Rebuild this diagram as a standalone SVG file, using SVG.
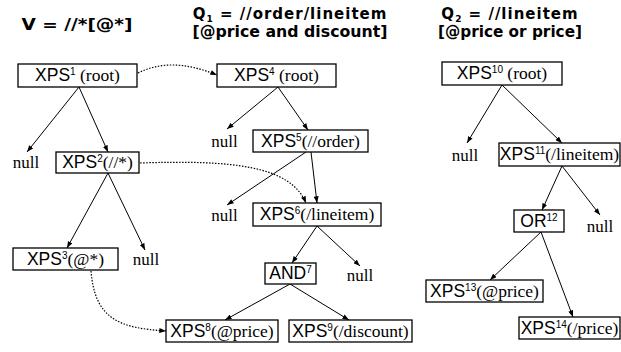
<svg xmlns="http://www.w3.org/2000/svg" width="621" height="352" viewBox="0 0 621 352">
  <defs>
    <marker id="tip" viewBox="0 0 8 6" refX="8" refY="3" markerWidth="7" markerHeight="5" orient="auto" markerUnits="userSpaceOnUse">
      <path d="M0,0 L8,3 L0,6 Z" fill="#000"/>
    </marker>
  </defs>
  <style>
    .box { fill: #fff; stroke: #000; stroke-width: 1.3; }
    .lbl { font-family: "Liberation Sans", Arial, sans-serif; font-size: 17.5px; fill: #000; text-anchor: middle; }
    .ser { font-family: "Liberation Serif", "Times New Roman", serif; }
    .sup { font-size: 10px; }
    .null { font-family: "Liberation Serif", "Times New Roman", serif; font-size: 17px; fill: #000; text-anchor: middle; }
    .title { font-family: "DejaVu Sans", Verdana, sans-serif; font-weight: bold; font-size: 15px; fill: #000; text-anchor: middle; }
    .wide { letter-spacing: 1px; }
    .edge { fill: none; stroke: #000; stroke-width: 1; marker-end: url(#tip); }
    .dot { fill: none; stroke: #000; stroke-width: 1.2; stroke-dasharray: 1.5 1.5; marker-end: url(#tip); }
  </style>

  <!-- query titles -->
  <g id="titles">
    <text class="title" x="77" y="30" font-size="16" textLength="111" lengthAdjust="spacingAndGlyphs">V = //*[@*]</text>
    <text class="title wide" x="290" y="19">Q<tspan font-size="9" dy="3">1</tspan><tspan dy="-3"> = //order/lineitem</tspan></text>
    <text class="title" x="290" y="37" textLength="195" lengthAdjust="spacingAndGlyphs">[@price and discount]</text>
    <text class="title wide" x="510" y="19">Q<tspan font-size="9" dy="3">2</tspan><tspan dy="-3"> = //lineitem</tspan></text>
    <text class="title" x="510" y="37" textLength="144" lengthAdjust="spacingAndGlyphs">[@price or price]</text>
  </g>

  <!-- connectors -->
  <g id="connectors">
    <!-- tree V -->
    <line class="edge" x1="79" y1="87" x2="27" y2="152"/>
    <line class="edge" x1="79" y1="87" x2="108" y2="152"/>
    <line class="edge" x1="108" y1="173" x2="67" y2="248"/>
    <line class="edge" x1="108" y1="173" x2="145" y2="250"/>
    <!-- tree Q1 -->
    <line class="edge" x1="278" y1="87" x2="227" y2="129"/>
    <line class="edge" x1="278" y1="87" x2="308" y2="130"/>
    <line class="edge" x1="306" y1="152" x2="227" y2="205"/>
    <line class="edge" x1="311" y1="152" x2="317" y2="203"/>
    <line class="edge" x1="317" y1="226" x2="292" y2="263"/>
    <line class="edge" x1="317" y1="226" x2="360" y2="266"/>
    <line class="edge" x1="290" y1="284" x2="225" y2="320"/>
    <line class="edge" x1="290" y1="284" x2="349" y2="320"/>
    <!-- tree Q2 -->
    <line class="edge" x1="502" y1="85" x2="467" y2="143"/>
    <line class="edge" x1="502" y1="85" x2="562" y2="143"/>
    <line class="edge" x1="562" y1="166" x2="542" y2="210"/>
    <line class="edge" x1="562" y1="166" x2="600" y2="215"/>
    <line class="edge" x1="541" y1="232" x2="490" y2="280"/>
    <line class="edge" x1="541" y1="232" x2="573" y2="317"/>
    <!-- dotted mappings -->
    <path class="dot" d="M138,73 C160,62 185,62 217,75"/>
    <path class="dot" d="M140,163 C230,160 290,165 306,203"/>
    <path class="dot" d="M91,271 C95,320 120,328 166,331"/>
  </g>

  <!-- tree V nodes -->
  <g id="n1"><rect class="box" x="18" y="64" width="119" height="23"/>
    <text class="lbl" x="77.5" y="81">XPS<tspan class="sup" dy="-6">1</tspan><tspan class="ser" dy="6"> (root)</tspan></text></g>
  <g id="null-a"><text class="null" x="26" y="168">null</text></g>
  <g id="n2"><rect class="box" x="56" y="152" width="83" height="21"/>
    <text class="lbl" x="97.5" y="168">XPS<tspan class="sup" dy="-6">2</tspan><tspan class="ser" dy="6">(//*)</tspan></text></g>
  <g id="n3"><rect class="box" x="13" y="248" width="105" height="22"/>
    <text class="lbl" x="65.5" y="265">XPS<tspan class="sup" dy="-6">3</tspan><tspan class="ser" dy="6">(@*)</tspan></text></g>
  <g id="null-b"><text class="null" x="146" y="265">null</text></g>

  <!-- tree Q1 nodes -->
  <g id="n4"><rect class="box" x="217" y="64" width="119" height="23"/>
    <text class="lbl" x="276.5" y="81">XPS<tspan class="sup" dy="-6">4</tspan><tspan class="ser" dy="6"> (root)</tspan></text></g>
  <g id="null-c"><text class="null" x="224.5" y="147">null</text></g>
  <g id="n5"><rect class="box" x="253" y="130" width="115" height="22"/>
    <text class="lbl" x="310.5" y="147">XPS<tspan class="sup" dy="-6">5</tspan><tspan class="ser" dy="6">(//order)</tspan></text></g>
  <g id="null-d"><text class="null" x="224.5" y="221">null</text></g>
  <g id="n6"><rect class="box" x="253" y="203" width="128" height="23"/>
    <text class="lbl" x="317" y="220">XPS<tspan class="sup" dy="-6">6</tspan><tspan class="ser" dy="6">(/lineitem)</tspan></text></g>
  <g id="n7"><rect class="box" x="265" y="263" width="51" height="21"/>
    <text class="lbl" x="290.5" y="279">AND<tspan class="sup" dy="-6">7</tspan></text></g>
  <g id="null-e"><text class="null" x="360" y="281">null</text></g>
  <g id="n8"><rect class="box" x="166" y="320" width="112" height="22"/>
    <text class="lbl" x="222" y="337">XPS<tspan class="sup" dy="-6">8</tspan><tspan class="ser" dy="6">(@price)</tspan></text></g>
  <g id="n9"><rect class="box" x="289" y="320" width="123" height="22"/>
    <text class="lbl" x="350.5" y="337">XPS<tspan class="sup" dy="-6">9</tspan><tspan class="ser" dy="6">(/discount)</tspan></text></g>

  <!-- tree Q2 nodes -->
  <g id="n10"><rect class="box" x="442" y="62" width="120" height="23"/>
    <text class="lbl" x="502" y="79">XPS<tspan class="sup" dy="-6">10</tspan><tspan class="ser" dy="6"> (root)</tspan></text></g>
  <g id="null-f"><text class="null" x="465" y="161">null</text></g>
  <g id="n11"><rect class="box" x="499" y="143" width="121" height="23"/>
    <text class="lbl" x="559.5" y="160">XPS<tspan class="sup" dy="-6">11</tspan><tspan class="ser" dy="6">(/lineitem)</tspan></text></g>
  <g id="n12"><rect class="box" x="514" y="210" width="50" height="22"/>
    <text class="lbl" x="539" y="227">OR<tspan class="sup" dy="-6">12</tspan></text></g>
  <g id="null-g"><text class="null" x="600" y="232">null</text></g>
  <g id="n13"><rect class="box" x="426" y="280" width="117" height="22"/>
    <text class="lbl" x="484.5" y="297">XPS<tspan class="sup" dy="-6">13</tspan><tspan class="ser" dy="6">(@price)</tspan></text></g>
  <g id="n14"><rect class="box" x="519" y="317" width="101" height="22"/>
    <text class="lbl" x="569.5" y="334">XPS<tspan class="sup" dy="-6">14</tspan><tspan class="ser" dy="6">(/price)</tspan></text></g>
</svg>
